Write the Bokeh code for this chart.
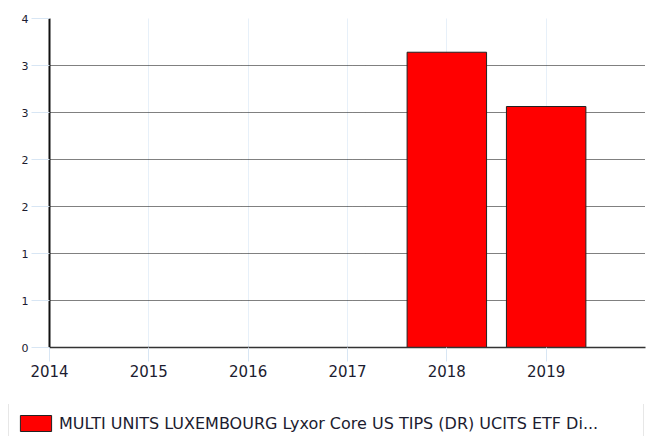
from bokeh.plotting import figure
from bokeh.layouts import column, row
from bokeh.models import (Range1d, FixedTicker, NumeralTickFormatter, Legend, LegendItem,
                          ColumnDataSource)
from bokeh.embed import file_html
from bokeh.resources import INLINE

# ---- data ----
years = [2018, 2019]
values = [3.59, 2.93]
series_name = "MULTI UNITS LUXEMBOURG Lyxor Core US TIPS (DR) UCITS ETF Di..."
x_ticks = [2014, 2015, 2016, 2017, 2018, 2019]
y_max = 4
y_intervals = 7
y_ticks = [y_max * i / y_intervals for i in range(y_intervals + 1)]

FONT = "DejaVu Sans"
TXT = "#1c1c30"
BAR_FILL = "#ff0000"
BAR_LINE = "#222222"

src = ColumnDataSource(dict(x=years, top=values))

p = figure(width=647, height=404, output_backend="svg", toolbar_location=None,
           x_range=Range1d(2014, 2020), y_range=Range1d(0, y_max),
           min_border_left=49, min_border_top=18, min_border_right=2,
           min_border_bottom=57)
p.outline_line_color = None

r = p.vbar(x="x", top="top", width=0.8, bottom=0, source=src,
           fill_color=BAR_FILL, line_color=BAR_LINE, line_width=1)

# y axis
p.yaxis.ticker = FixedTicker(ticks=y_ticks)
p.yaxis.formatter = NumeralTickFormatter(format="0")
p.yaxis.axis_line_color = "#111111"
p.yaxis.axis_line_width = 2
p.yaxis.major_tick_line_color = "#d8e6f4"
p.yaxis.major_tick_out = 18
p.yaxis.major_tick_in = 0
p.yaxis.minor_tick_line_color = None
p.yaxis.major_label_standoff = 3
p.yaxis.major_label_text_font = FONT
p.yaxis.major_label_text_font_size = "11px"
p.yaxis.major_label_text_color = TXT

# x axis
p.xaxis.ticker = FixedTicker(ticks=x_ticks)
p.xaxis.axis_line_color = "#333333"
p.xaxis.axis_line_width = 1.5
p.xaxis.major_tick_line_color = "#d8e6f4"
p.xaxis.major_tick_out = 14
p.xaxis.major_tick_in = 0
p.xaxis.minor_tick_line_color = None
p.xaxis.major_label_standoff = 3
p.xaxis.major_label_text_font = FONT
p.xaxis.major_label_text_font_size = "15px"
p.xaxis.major_label_text_color = TXT

# grids
p.ygrid.ticker = FixedTicker(ticks=y_ticks)
p.ygrid.grid_line_color = "#000000"
p.ygrid.grid_line_dash = "1 1"
p.ygrid.grid_line_width = 1
p.xgrid.ticker = FixedTicker(ticks=x_ticks)
p.xgrid.grid_line_color = "#cfe0f2"
p.xgrid.grid_line_dash = "1 1"
p.xgrid.grid_line_width = 1

# ---- legend strip (separate figure so it can span the full width) ----
lf = figure(width=647, height=32, output_backend="svg", toolbar_location=None,
            x_axis_type=None, y_axis_type=None,
            x_range=Range1d(0, 1), y_range=Range1d(0, 1),
            min_border=0, min_border_left=0, min_border_right=0,
            min_border_top=0, min_border_bottom=0)
lf.outline_line_color = None
lf.xgrid.visible = False
lf.ygrid.visible = False
# legend-only renderer: its single bar lies outside the visible range
lr = lf.vbar(x=[5], top=[1], width=0.8, fill_color=BAR_FILL,
             line_color=BAR_LINE, line_width=1)

legend = Legend(items=[LegendItem(label=series_name, renderers=[lr])],
                location=(8, -8), orientation="horizontal",
                border_line_color="#d0d0d0", border_line_width=1,
                padding=7, margin=0, spacing=0,
                glyph_width=39, glyph_height=20, label_standoff=4,
                label_width=577, label_height=26, label_text_font=FONT,
                label_text_font_size="16px", label_text_color=TXT,
                label_text_baseline="middle",
                background_fill_color="white", background_fill_alpha=1)
lf.add_layout(legend, "center")

layout = column(p, row(lf), spacing=0)
open("out.html", "w").write(file_html(layout, INLINE))
